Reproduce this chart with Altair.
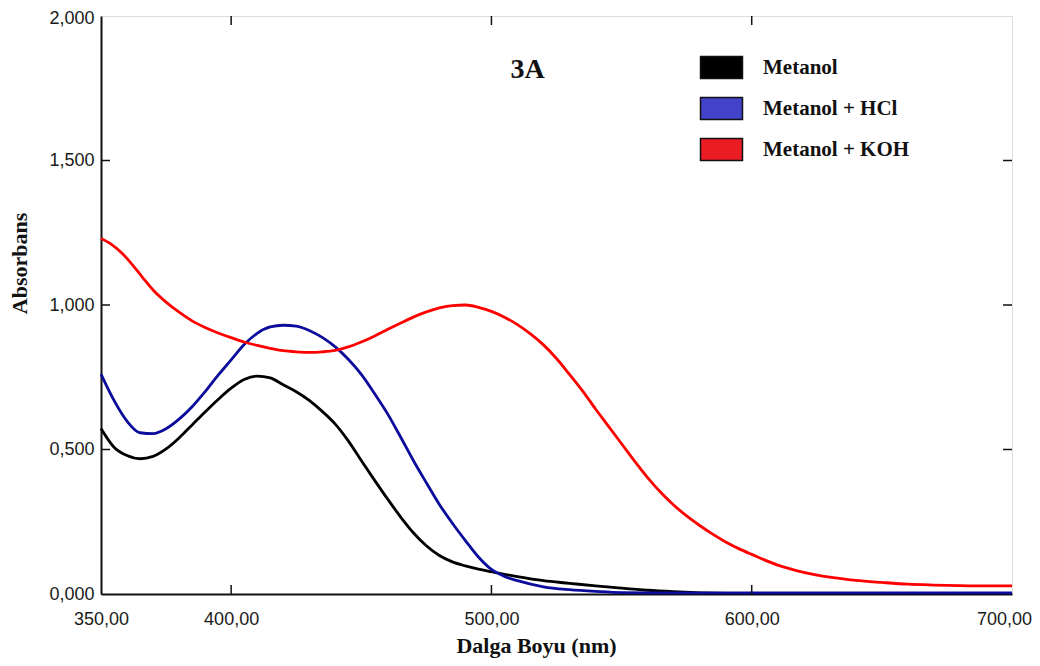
import altair as alt
import pandas as pd

# ---- data ----
series_names = ["Metanol", "Metanol + HCl", "Metanol + KOH"]
line_colors = ["#000000", "#0c0c9c", "#ff0000"]
swatch_colors = ["#000000", "#4343c9", "#ec1c24"]

wl_metanol = [350, 355, 360, 365, 370, 375, 380, 385, 390, 395, 400, 405, 410, 415, 420,
              425, 430, 435, 440, 445, 450, 455, 460, 465, 470, 475, 480, 485, 490, 495,
              500, 510, 520, 530, 540, 550, 560, 570, 580, 600, 650, 700]
abs_metanol = [0.573, 0.508, 0.479, 0.468, 0.476, 0.502, 0.540, 0.585, 0.630, 0.673, 0.712,
               0.742, 0.754, 0.748, 0.724, 0.700, 0.670, 0.632, 0.588, 0.530, 0.462, 0.395,
               0.330, 0.268, 0.212, 0.167, 0.133, 0.111, 0.097, 0.086, 0.077, 0.060, 0.046,
               0.037, 0.028, 0.020, 0.013, 0.008, 0.004, 0.002, 0.002, 0.002]

wl_hcl = [350, 355, 360, 365, 370, 375, 380, 385, 390, 395, 400, 405, 410, 415, 420, 425,
          430, 435, 440, 445, 450, 455, 460, 465, 470, 475, 480, 485, 490, 495, 500, 505,
          510, 520, 530, 540, 550, 570, 600, 650, 700]
abs_hcl = [0.761, 0.670, 0.598, 0.558, 0.555, 0.572, 0.605, 0.648, 0.700, 0.757, 0.810,
           0.863, 0.902, 0.924, 0.930, 0.927, 0.912, 0.888, 0.855, 0.812, 0.760, 0.695,
           0.625, 0.545, 0.462, 0.385, 0.310, 0.245, 0.185, 0.128, 0.085, 0.061, 0.046,
           0.025, 0.015, 0.009, 0.005, 0.004, 0.004, 0.004, 0.004]

wl_koh = [350, 354, 358, 362, 366, 370, 375, 380, 385, 390, 395, 400, 405, 410, 415, 420,
          425, 430, 435, 440, 445, 450, 455, 460, 465, 470, 475, 480, 485, 490, 495, 500,
          505, 510, 515, 520, 525, 530, 535, 540, 545, 550, 555, 560, 565, 570, 575, 580,
          585, 590, 595, 600, 610, 620, 630, 640, 650, 660, 670, 680, 690, 700]
abs_koh = [1.230, 1.210, 1.180, 1.140, 1.095, 1.052, 1.010, 0.975, 0.945, 0.922, 0.903,
           0.887, 0.872, 0.860, 0.850, 0.842, 0.838, 0.836, 0.838, 0.843, 0.855, 0.872,
           0.892, 0.915, 0.937, 0.958, 0.976, 0.990, 0.998, 1.000, 0.992, 0.978, 0.958,
           0.932, 0.900, 0.862, 0.815, 0.760, 0.703, 0.640, 0.580, 0.520, 0.460, 0.403,
           0.352, 0.308, 0.270, 0.237, 0.207, 0.180, 0.157, 0.137, 0.100, 0.075, 0.058,
           0.047, 0.040, 0.034, 0.031, 0.029, 0.028, 0.028]

x_label_values = [350, 400, 500, 600, 700]
x_inner_ticks = [400, 500, 600]
y_label_values = [0, 0.5, 1.0, 1.5, 2.0]
y_inner_ticks = [0.5, 1.0, 1.5]

title_text = "3A"
x_title = "Dalga Boyu (nm)"
y_title = "Absorbans"

# ---- build tables ----
rows = []
for name, wl, ab in [(series_names[0], wl_metanol, abs_metanol),
                     (series_names[1], wl_hcl, abs_hcl),
                     (series_names[2], wl_koh, abs_koh)]:
    for w, a in zip(wl, ab):
        rows.append({"series": name, "nm": w, "A": a})
df = pd.DataFrame(rows)
df_xt = pd.DataFrame({"nm": x_inner_ticks})
df_yt = pd.DataFrame({"A": y_inner_ticks})

W, H = 911, 578
TICK = 9

xscale = alt.Scale(domain=[350, 700], nice=False, zero=False)
yscale = alt.Scale(domain=[0, 2], nice=False, zero=False)

x_axis = alt.Axis(values=x_label_values, grid=False, ticks=False, tickSize=0,
                  labelExpr="replace(format(datum.value, '.2f'), '.', ',')",
                  labelFont="Liberation Sans", labelFontSize=18, labelColor="#1a1a1a",
                  labelBaseline="alphabetic", labelPadding=30, labelFlush=False,
                  labelOffset={"condition": {"test": "datum.value == 700", "value": -8},
                               "value": 0},
                  domainColor="#111111", domainWidth=2,
                  title=x_title, titleFont="Liberation Serif", titleFontSize=22,
                  titleFontWeight="bold", titleColor="#111111",
                  titleX=435, titleY=58, titleBaseline="alphabetic", titleAlign="center")
y_axis = alt.Axis(values=y_label_values, grid=False, ticks=False, tickSize=0,
                  labelExpr="replace(format(datum.value, '.3f'), '.', ',')",
                  labelFont="Liberation Sans", labelFontSize=18, labelColor="#1a1a1a",
                  labelPadding=7, labelFlush=False,
                  labelOffset={"condition": {"test": "datum.value == 2", "value": 2},
                               "value": 0},
                  domainColor="#111111", domainWidth=2,
                  title=y_title, titleFont="Liberation Serif", titleFontSize=22,
                  titleFontWeight="bold", titleColor="#111111",
                  titleX=-74.5, titleY=247, titleBaseline="alphabetic", titleAlign="center",
                  titleAngle=-90)

X = alt.X("nm:Q", scale=xscale, axis=x_axis)
Y = alt.Y("A:Q", scale=yscale, axis=y_axis)

# line colours: domain left to the (alphabetical) data order, same as series_names
lines = alt.Chart(df).mark_line(strokeWidth=2.8, interpolate="monotone").encode(
    x=X, y=Y,
    stroke=alt.Stroke("series:N", scale=alt.Scale(range=line_colors), legend=None),
    order=alt.Order("nm:Q"),
)

legend_layer = alt.Chart(df).mark_square(filled=True, size=0).encode(
    x=X, y=Y,
    color=alt.Color("series:N", scale=alt.Scale(domain=series_names, range=swatch_colors),
                    legend=alt.Legend(orient="none", legendX=599, legendY=30,
                                      title=None,
                                      symbolType="M-1.024,-0.537H1.024V0.537H-1.024Z",
                                      symbolSize=1681, symbolStrokeColor="#111111",
                                      symbolStrokeWidth=1.5, symbolOpacity=1,
                                      labelFont="Liberation Serif", labelFontSize=21,
                                      labelFontWeight="bold", labelColor="#111111",
                                      labelOffset=20, rowPadding=5,
                                      labelLimit=400)),
)

bottom_ticks = alt.Chart(df_xt).mark_rule(color="#111111", strokeWidth=1.5).encode(
    x=X, y=alt.value(H), y2=alt.value(H - TICK))
top_ticks = alt.Chart(df_xt).mark_rule(color="#111111", strokeWidth=1.5).encode(
    x=X, y=alt.value(0), y2=alt.value(TICK))
left_ticks = alt.Chart(df_yt).mark_rule(color="#111111", strokeWidth=1.5).encode(
    y=Y, x=alt.value(0), x2=alt.value(TICK))
right_ticks = alt.Chart(df_yt).mark_rule(color="#111111", strokeWidth=1.5).encode(
    y=Y, x=alt.value(W), x2=alt.value(W - TICK))

chart = alt.layer(lines, legend_layer, bottom_ticks, top_ticks, left_ticks, right_ticks).properties(
    width=W, height=H,
    title=alt.TitleParams(title_text, font="Liberation Serif", fontSize=28, fontWeight="bold",
                          color="#111111", anchor="middle", frame="group", orient="top",
                          baseline="alphabetic", offset=0, dx=-29, dy=97),
    autosize=alt.AutoSizeParams(type="none"),
    padding={"left": 93, "top": 8, "right": 20, "bottom": 64},
).configure_view(
    stroke="#333333", strokeWidth=1.5
).configure(background="white")

chart.save("out.html", embed_options={"renderer": "svg", "actions": False})
